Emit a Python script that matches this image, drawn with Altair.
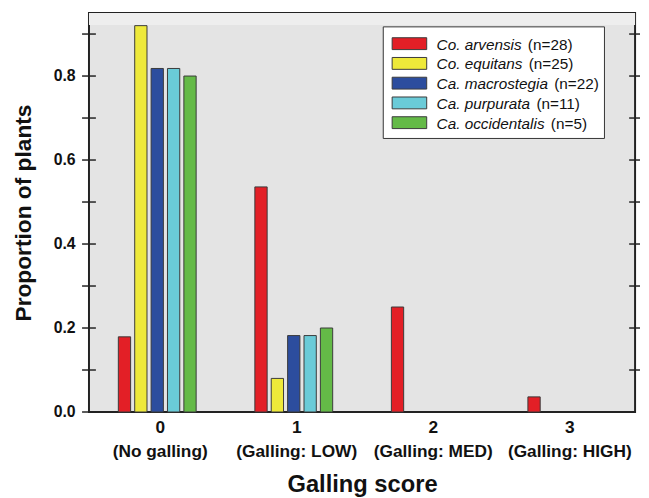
import altair as alt
import pandas as pd

# ---------------- data ----------------
categories = ["0\n(No galling)", "1\n(Galling: LOW)", "2\n(Galling: MED)", "3\n(Galling: HIGH)"]
series = ["Co. arvensis", "Co. equitans", "Ca. macrostegia", "Ca. purpurata", "Ca. occidentalis"]
sample_n = [28, 25, 22, 11, 5]
colors = ["#e31f26", "#eee93a", "#2c4d9e", "#6acbd8", "#64ba47"]

arvensis = [0.179, 0.536, 0.250, 0.036]
equitans = [0.920, 0.080, 0.0, 0.0]
macrostegia = [0.818, 0.182, 0.0, 0.0]
purpurata = [0.818, 0.182, 0.0, 0.0]
occidentalis = [0.800, 0.200, 0.0, 0.0]

y_ticks = [0.0, 0.1, 0.2, 0.3, 0.4, 0.5, 0.6, 0.7, 0.8, 0.9]
y_labels = [0.0, 0.2, 0.4, 0.6, 0.8]

# ---------------- build table ----------------
rows = []
for s, vals in zip(series, [arvensis, equitans, macrostegia, purpurata, occidentalis]):
    for c, v in zip(categories, vals):
        rows.append({"cat": c, "series": s, "value": v})
df = pd.DataFrame(rows)
df = df[df["value"] > 0]

W, H = 553, 404
FONT = "Liberation Sans"
yscale = alt.Scale(domain=[0, 0.95], nice=False, zero=True)
yaxis = alt.Axis(
    title="Proportion of plants",
    values=y_labels,
    format=".1f",
    labelFontSize=16,
    labelFontWeight="bold",
    labelColor="#111111",
    labelPadding=14,
    ticks=False,
    domain=False,
    grid=False,
    titleFontSize=23,
    titleFontWeight="bold",
    titleColor="#111111",
    titlePadding=18,
)

# light band at the top of the plot area
band = alt.Chart(pd.DataFrame({"a": [0]})).mark_rect(color="#eeeeee").encode(
    x=alt.value(0), x2=alt.value(W), y=alt.value(0), y2=alt.value(12)
)

bars = alt.Chart(df).mark_bar(stroke="#3a3a3a", strokeWidth=1).encode(
    x=alt.X(
        "cat:N",
        sort=categories,
        scale=alt.Scale(paddingInner=0.43, paddingOuter=0.215),
        axis=alt.Axis(
            title="Galling score",
            labelAngle=0,
            labelExpr="split(datum.label, '\\n')",
            labelLineHeight=24,
            labelFontSize=17.5,
            labelFontWeight="bold",
            labelColor="#111111",
            labelPadding=7,
            labelOffset=3,
            ticks=False,
            domain=False,
            grid=False,
            titleFontSize=24,
            titleFontWeight="bold",
            titleColor="#111111",
            titlePadding=13,
        ),
    ),
    xOffset=alt.XOffset("series:N", sort=series, scale=alt.Scale(paddingInner=0.25, paddingOuter=0)),
    y=alt.Y("value:Q", scale=yscale, axis=yaxis),
    color=alt.Color("series:N", scale=alt.Scale(domain=series, range=colors), legend=None),
)

ticks_df = pd.DataFrame({"value": y_ticks})
left_ticks = alt.Chart(ticks_df).mark_rule(color="#222222", strokeWidth=1.5).encode(
    y=alt.Y("value:Q", scale=yscale, axis=yaxis), x=alt.value(-7), x2=alt.value(7)
)
right_ticks = alt.Chart(ticks_df[ticks_df["value"] > 0]).mark_rule(color="#222222", strokeWidth=1.5).encode(
    y=alt.Y("value:Q", scale=yscale, axis=yaxis), x=alt.value(W - 6), x2=alt.value(W + 5)
)

# ---------------- legend (drawn by hand: italic name + regular count) ----------------
ARIAL = {" ": 278, ".": 278, "C": 722, "a": 556, "o": 556, "r": 333, "v": 500, "e": 556,
         "n": 556, "s": 500, "i": 222, "q": 556, "u": 556, "t": 278, "m": 833, "c": 500,
         "g": 556, "p": 556, "l": 222, "d": 556}
LEG_FS = 15.5


def text_w(s, fs):
    return sum(ARIAL.get(ch, 556) for ch in s) * fs / 1000.0


legend_layers = [
    alt.Chart(pd.DataFrame({"a": [0]})).mark_rect(fill="white", stroke="#333333", strokeWidth=1).encode(
        x=alt.value(298), x2=alt.value(522), y=alt.value(14), y2=alt.value(127)
    )
]
for i, (s, n, col) in enumerate(zip(series, sample_n, colors)):
    yc = 31 + 20 * i
    d = pd.DataFrame({"name": [s], "count": [f"(n={n})"]})
    legend_layers.append(
        alt.Chart(d).mark_rect(fill=col, stroke="#3a3a3a", strokeWidth=1).encode(
            x=alt.value(307), x2=alt.value(342), y=alt.value(yc - 6), y2=alt.value(yc + 6)
        )
    )
    legend_layers.append(
        alt.Chart(d).mark_text(align="left", baseline="middle", fontStyle="italic",
                               fontSize=LEG_FS, font=FONT, color="#111111").encode(
            x=alt.value(352), y=alt.value(yc + 1), text="name:N"
        )
    )
    legend_layers.append(
        alt.Chart(d).mark_text(align="left", baseline="middle",
                               fontSize=LEG_FS, font=FONT, color="#111111").encode(
            x=alt.value(352 + text_w(s + " ", LEG_FS) + 2), y=alt.value(yc + 1), text="count:N"
        )
    )

chart = alt.layer(band, bars, left_ticks, right_ticks, *legend_layers).properties(
    width=W, height=H, padding={"left": 4, "top": 2, "right": 0, "bottom": 0}
).configure(
    font=FONT
).configure_view(
    fill="#e4e4e4", stroke="#222222", strokeWidth=2
).configure_axis(labelFont=FONT, titleFont=FONT)

chart.save("out.html", embed_options={"renderer": "svg", "actions": False})
